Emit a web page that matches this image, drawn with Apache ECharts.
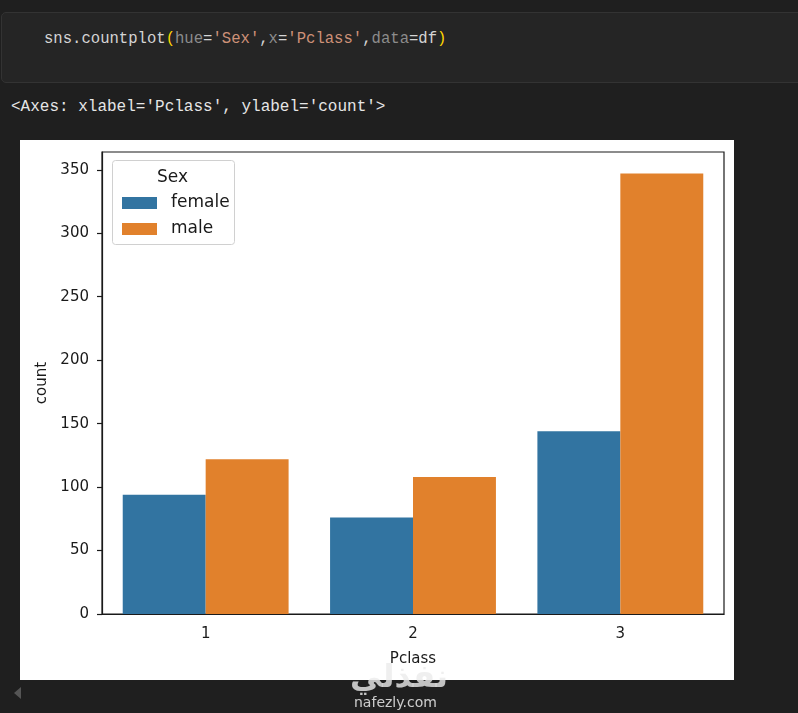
<!DOCTYPE html>
<html lang="en">

<head>
    <meta charset="UTF-8">
    <title>countplot</title>
    <script src="https://cdn.jsdelivr.net/npm/echarts@6/dist/echarts.min.js"></script>
    <style>
        html, body { margin: 0; padding: 0; }
        body { width: 798px; height: 713px; background: #1f1f1f; position: relative; overflow: hidden; }
        .cell {
            position: absolute; left: 1px; top: 12px; width: 800px; height: 69px;
            background: #252525; border: 1px solid #333333; border-radius: 5px;
        }
        .code {
            position: absolute; left: 44px; top: 30px;
            font-family: "Liberation Mono", "DejaVu Sans Mono", monospace; font-size: 15.6px;
            color: #d4d4d4; white-space: pre;
        }
        .out {
            position: absolute; left: 11px; top: 98px;
            font-family: "Liberation Mono", "DejaVu Sans Mono", monospace; font-size: 16px;
            color: #e6e6e6; white-space: pre;
        }
        #myecharts { position: absolute; left: 20px; top: 140px; width: 714px; height: 540px; background: #ffffff; }
        .wm1 { position: absolute; left: 350px; top: 657px; font-family: "DejaVu Sans"; font-weight: bold;
               font-size: 32px; color: rgba(235,235,235,0.8); }
        .wm2 { position: absolute; left: 354px; top: 694px; font-family: "DejaVu Sans"; font-size: 14px;
               color: rgba(235,235,235,0.85); }
        .arr { position: absolute; left: 14px; top: 687px; width: 0; height: 0;
               border-top: 6px solid transparent; border-bottom: 6px solid transparent; border-right: 7px solid #555; }
    </style>
</head>

<body>
    <div class="cell"></div>
    <div class="code">sns.countplot<span style="color:#ffd700">(</span><span style="color:#8c8c8c">hue</span>=<span style="color:#ce9178">'Sex'</span>,<span style="color:#8c8c8c">x</span>=<span style="color:#ce9178">'Pclass'</span>,<span style="color:#8c8c8c">data</span>=df<span style="color:#ffd700">)</span></div>
    <div class="out">&lt;Axes: xlabel='Pclass', ylabel='count'&gt;</div>
    <div id="myecharts"></div>
    <div class="wm1">نفذلي</div>
    <div class="wm2">nafezly.com</div>
    <div class="arr"></div>
</body>

<script>
    // 数据
    var categories = ['1', '2', '3'];
    var female = [94, 76, 144];
    var male = [122, 108, 347];
    var yTicks = [0, 50, 100, 150, 200, 250, 300, 350];

    var font = 'DejaVu Sans';
    var ink = '#1a1a1a';

    var myChart = echarts.init(document.getElementById('myecharts'));
    myChart.setOption({
        animation: false,
        grid: {
            left: 82, right: 10, top: 12, bottom: 66,
            show: true, borderColor: ink, borderWidth: 1.2, backgroundColor: 'transparent'
        },
        legend: {
            orient: 'vertical',
            left: 97, top: 49,
            z: 10,
            icon: 'rect',
            itemWidth: 35, itemHeight: 12, itemGap: 8,
            textStyle: { fontFamily: font, fontSize: 17, color: ink, lineHeight: 18, padding: [0, 0, 0, 9] },
            data: ['female', 'male']
        },
        graphic: [
            {
                type: 'rect', left: 92, top: 20, z: 5,
                shape: { width: 122, height: 84, r: 3 },
                style: { fill: 'rgba(255,255,255,0.8)', stroke: '#d0d0d0', lineWidth: 1 }
            },
            {
                type: 'text', left: 137, top: 29, z: 10,
                style: { text: 'Sex', font: '17px "DejaVu Sans"', fill: ink }
            }
        ],
        xAxis: {
            type: 'category',
            data: categories,
            name: 'Pclass', nameLocation: 'middle', nameGap: 38,
            nameTextStyle: { fontFamily: font, fontSize: 15, color: ink },
            axisLine: { lineStyle: { color: ink, width: 1.2 } },
            axisTick: { alignWithLabel: true, length: 5, lineStyle: { color: ink, width: 1.2 } },
            axisLabel: { fontFamily: font, fontSize: 15, color: ink, margin: 13 }
        },
        yAxis: {
            type: 'value', min: 0, max: 364, interval: 50,
            name: 'count', nameLocation: 'middle', nameGap: 52,
            nameTextStyle: { fontFamily: font, fontSize: 15, color: ink },
            splitLine: { show: false },
            axisLine: { show: true, lineStyle: { color: ink, width: 1.2 } },
            axisTick: { show: true, length: 5, customValues: yTicks, lineStyle: { color: ink, width: 1.2 } },
            axisLabel: { fontFamily: font, fontSize: 15, color: ink, margin: 13, customValues: yTicks }
        },
        series: [
            { name: 'female', type: 'bar', data: female, barWidth: '40%', barGap: '0%', itemStyle: { color: '#3274a1' } },
            { name: 'male', type: 'bar', data: male, barWidth: '40%', barGap: '0%', itemStyle: { color: '#e1812c' } }
        ]
    });
</script>

</html>
